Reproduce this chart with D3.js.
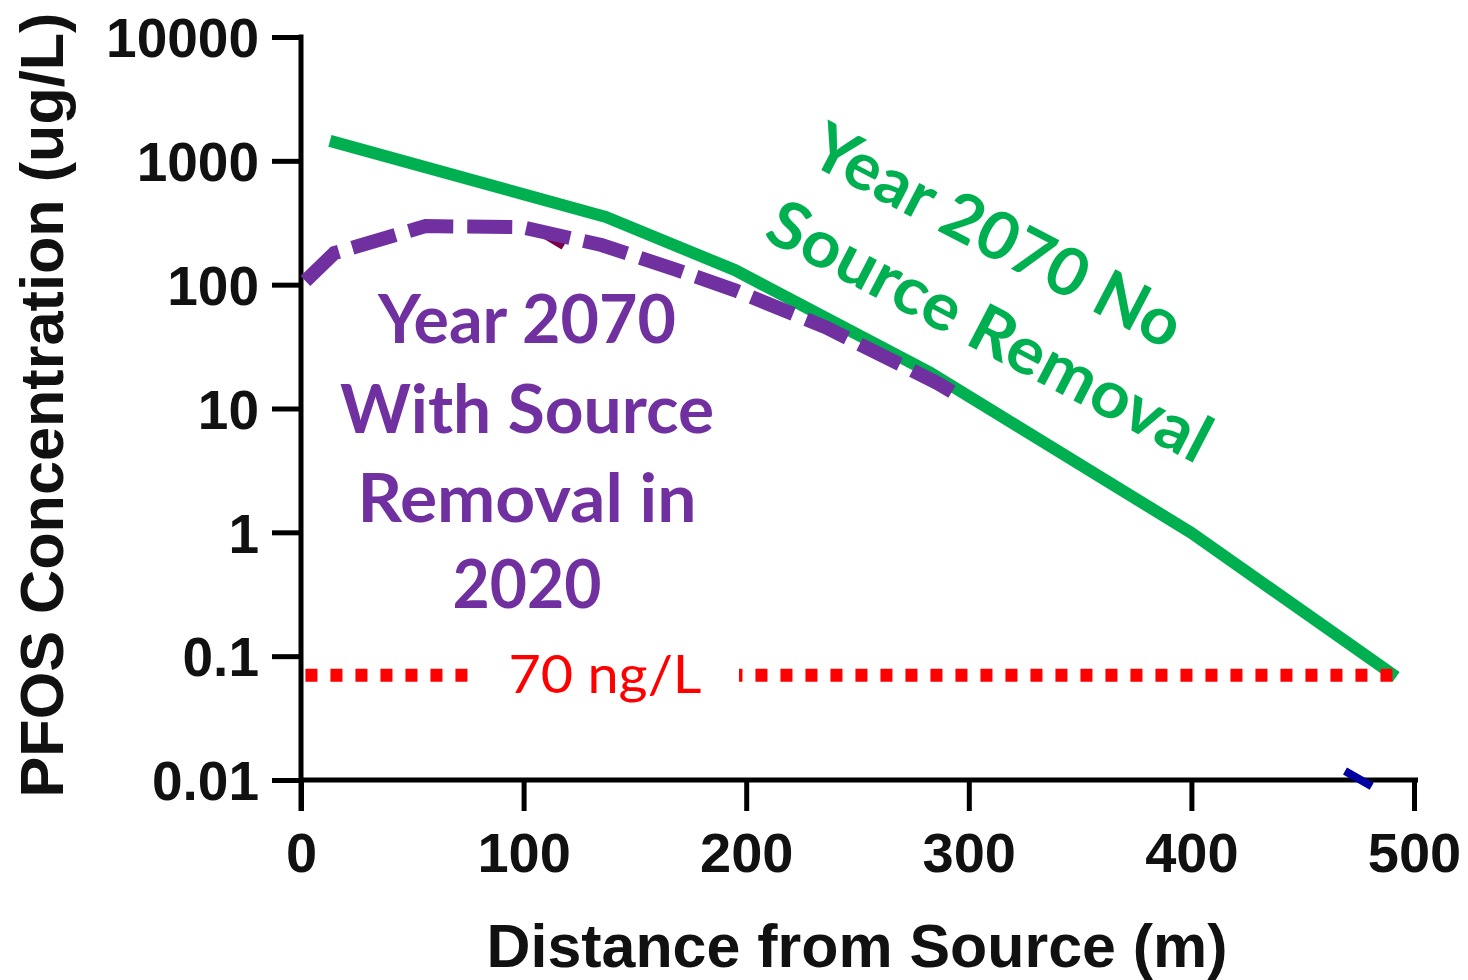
<!DOCTYPE html>
<html>
<head>
<meta charset="utf-8">
<script src="https://cdn.jsdelivr.net/npm/d3@7"></script>
<style>
  html, body { margin: 0; padding: 0; background: #fff; }
  svg { display: block; }
</style>
</head>
<body>
<svg id="chart" width="1468" height="980"></svg>
<script>
// Distance from source (m) and PFOS concentration (ug/L)
const noRemovalX = [13, 137, 195, 283, 400, 492];
const noRemovalY = [1450, 352, 131, 19.3, 0.99, 0.068];

const withRemovalX = [2, 15, 56, 99, 135, 169, 195, 236, 286, 297];
const withRemovalY = [107, 180, 297, 292, 209, 131, 90, 45, 16, 12.2];

// small leftover strokes from the original plot
const residualRedX = [110, 118];
const residualRedY = [250, 205];
const residualBlueX = [469, 481];
const residualBlueY = [0.0118, 0.0089];

// regulatory threshold: 70 ng/L = 0.07 ug/L
const thresholdX = [2, 496];
const thresholdValue = 0.07;
const thresholdLabel = "70 ng/L";

const xTicks = [0, 100, 200, 300, 400, 500];
const yTicks = [0.01, 0.1, 1, 10, 100, 1000, 10000];
const yTickLabels = ["0.01", "0.1", "1", "10", "100", "1000", "10000"];

const purpleLabel = ["Year 2070", "With Source", "Removal in", "2020"];
const greenLabel = ["Year 2070 No", "Source Removal"];

const GREEN = "#00b050", PURPLE = "#7030a0", RED = "#ff0000";

const svg = d3.select("#chart");

const x = d3.scaleLinear().domain([0, 500]).range([301, 1414]);
const y = d3.scaleLog().domain([0.01, 10000]).range([780, 37]);

const line = d3.line().x(d => x(d[0])).y(d => y(d[1]));
const zip = (a, b) => a.map((v, i) => [v, b[i]]);

// ---- axes ----
const axisFont = "'Liberation Sans', Arial, sans-serif";

const yAxis = svg.append("g")
  .attr("transform", `translate(${x(0)},0)`)
  .call(d3.axisLeft(y).tickValues(yTicks).tickSize(29).tickPadding(13)
    .tickFormat((d, i) => yTickLabels[i]));
yAxis.select(".domain").remove();
yAxis.selectAll(".tick line").attr("stroke", "#000").attr("stroke-width", 5);
yAxis.selectAll(".tick text")
  .attr("fill", "#111").attr("font-family", axisFont).attr("font-weight", "bold")
  .attr("font-size", 55).attr("dy", "0.36em");

const xAxis = svg.append("g")
  .attr("transform", `translate(0,${y(0.01)})`)
  .call(d3.axisBottom(x).tickValues(xTicks).tickSize(31).tickPadding(21));
xAxis.select(".domain").remove();
xAxis.selectAll(".tick line").attr("stroke", "#000").attr("stroke-width", 5);
xAxis.selectAll(".tick text")
  .attr("fill", "#111").attr("font-family", axisFont).attr("font-weight", "bold")
  .attr("font-size", 56).attr("dy", "0.72em");

// axis spines
svg.append("line")
  .attr("x1", x(0)).attr("x2", x(0))
  .attr("y1", y(10000) - 2.5).attr("y2", y(0.01) + 31)
  .attr("stroke", "#000").attr("stroke-width", 5);
svg.append("line")
  .attr("x1", x(0) - 2).attr("x2", x(500) + 4)
  .attr("y1", y(0.01)).attr("y2", y(0.01))
  .attr("stroke", "#000").attr("stroke-width", 5);

// axis titles
svg.append("text")
  .attr("x", 857).attr("y", 967)
  .attr("text-anchor", "middle")
  .attr("font-family", axisFont).attr("font-weight", "bold").attr("font-size", 61)
  .attr("fill", "#111")
  .attr("textLength", 741).attr("lengthAdjust", "spacingAndGlyphs")
  .text("Distance from Source (m)");

svg.append("text")
  .attr("transform", "translate(63,405) rotate(-90)")
  .attr("text-anchor", "middle")
  .attr("font-family", axisFont).attr("font-weight", "bold").attr("font-size", 62)
  .attr("fill", "#111")
  .attr("textLength", 785).attr("lengthAdjust", "spacingAndGlyphs")
  .text("PFOS Concentration (ug/L)");

// ---- data lines ----
svg.append("path")
  .datum(zip(residualRedX, residualRedY))
  .attr("d", line).attr("fill", "none")
  .attr("stroke", "#7a0046").attr("stroke-width", 8);

svg.append("path")
  .datum(zip(residualBlueX, residualBlueY))
  .attr("d", line).attr("fill", "none")
  .attr("stroke", "#0000a0").attr("stroke-width", 8);

svg.append("path")
  .datum(zip(noRemovalX, noRemovalY))
  .attr("d", line).attr("fill", "none")
  .attr("stroke", GREEN).attr("stroke-width", 12)
  .attr("stroke-linejoin", "round");

svg.append("path")
  .datum(zip(withRemovalX, withRemovalY))
  .attr("d", line).attr("fill", "none")
  .attr("stroke", PURPLE).attr("stroke-width", 14)
  .attr("stroke-dasharray", "45 14");

// threshold line
svg.append("path")
  .datum(thresholdX.map(d => [d, thresholdValue]))
  .attr("d", line).attr("fill", "none")
  .attr("stroke", RED).attr("stroke-width", 13)
  .attr("stroke-dasharray", "12 13");

// label box over the threshold line
const ty = y(thresholdValue);
svg.append("rect")
  .attr("x", 480).attr("y", ty - 30).attr("width", 259).attr("height", 60)
  .attr("fill", "#fff");
svg.append("text")
  .attr("x", 605).attr("y", ty + 18)
  .attr("text-anchor", "middle")
  .attr("font-family", "Lato, 'Open Sans', sans-serif").attr("font-size", 53)
  .attr("fill", RED)
  .attr("textLength", 193).attr("lengthAdjust", "spacingAndGlyphs")
  .text(thresholdLabel);

// ---- annotations ----
const annFont = "Lato, 'Open Sans', sans-serif";
const purpleWidths = [298, 374, 339, 149];
const purpleBase = [343, 433, 522, 608];
purpleLabel.forEach((t, i) => {
  svg.append("text")
    .attr("x", 527).attr("y", purpleBase[i])
    .attr("text-anchor", "middle")
    .attr("font-family", annFont).attr("font-weight", "bold").attr("font-size", 66)
    .attr("fill", PURPLE)
    .attr("textLength", purpleWidths[i]).attr("lengthAdjust", "spacingAndGlyphs")
    .text(t);
});

const greenG = svg.append("g").attr("transform", "translate(806,162) rotate(27.5)");
const greenWidths = [408, 490];
const greenOffsets = [[0, 0], [-4, 88]];
greenLabel.forEach((t, i) => {
  greenG.append("text")
    .attr("x", greenOffsets[i][0]).attr("y", greenOffsets[i][1])
    .attr("font-family", annFont).attr("font-weight", "bold").attr("font-size", 66)
    .attr("fill", GREEN)
    .attr("textLength", greenWidths[i]).attr("lengthAdjust", "spacingAndGlyphs")
    .text(t);
});
</script>
</body>
</html>
